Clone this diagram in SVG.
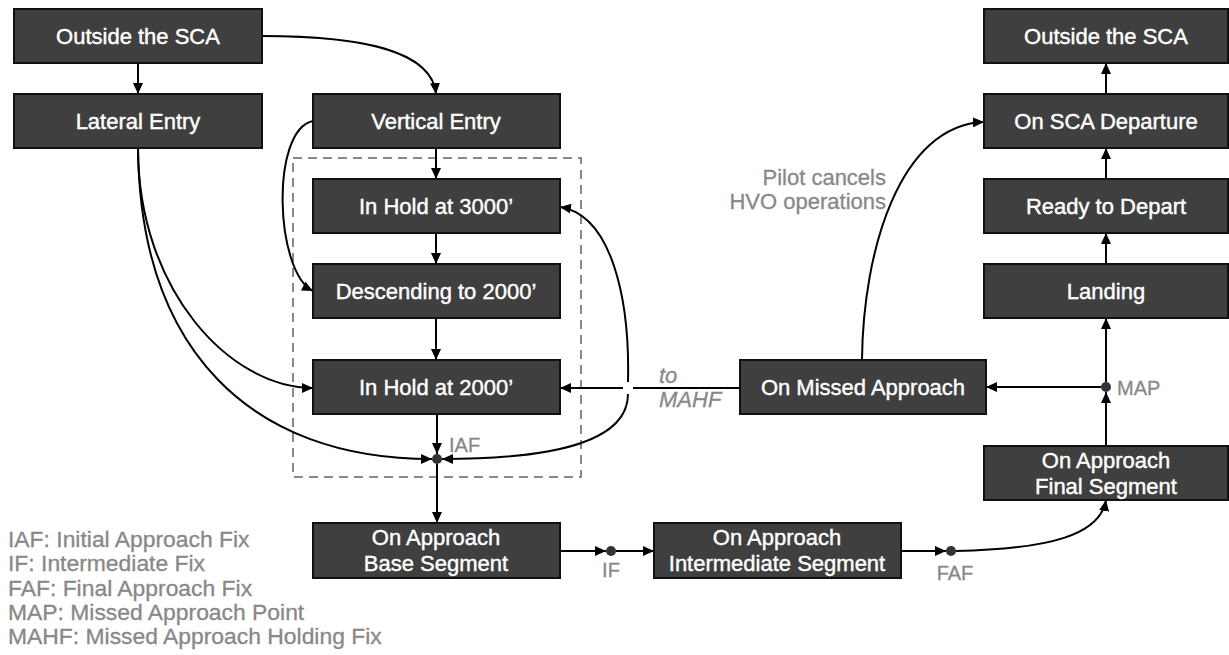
<svg xmlns="http://www.w3.org/2000/svg" width="1229" height="655" viewBox="0 0 1229 655">
<style>
.box{fill:#3f3f3f;stroke:#111;stroke-width:2}
.t{font-family:"Liberation Sans",Arial,sans-serif;font-size:22px;fill:#fff;stroke:#fff;stroke-width:0.4;text-anchor:middle}
.lbl{font-family:"Liberation Sans",Arial,sans-serif;font-size:20px;fill:#888;stroke:#888;stroke-width:0.3}
.leg{font-family:"Liberation Sans",Arial,sans-serif;font-size:22px;fill:#888;stroke:#888;stroke-width:0.3}
.c{fill:none;stroke:#000;stroke-width:2}
.a{marker-end:url(#ah)}
.dot{fill:#333}
</style>
<defs>
<marker id="ah" markerUnits="userSpaceOnUse" markerWidth="11" markerHeight="10" refX="11" refY="5" orient="auto">
<path d="M0,0 L11,5 L0,10 z" fill="#000"/>
</marker>
</defs>
<rect width="1229" height="655" fill="#fff"/>
<rect x="293" y="158" width="288" height="319" fill="none" stroke="#888" stroke-width="2" stroke-dasharray="9 6"/>
<g id="connectors">
<path class="c a" d="M138,63 L138,94"/>
<path class="c a" d="M262,36 C360,36 432,50 436,94"/>
<path class="c a" d="M436,148 L436,179"/>
<path class="c a" d="M436,233 L436,264"/>
<path class="c a" d="M436,318 L436,360"/>
<path class="c a" d="M437,414 L437,454"/>
<path class="c a" d="M437,464 L437,523"/>
<path class="c a" d="M313,121 C270,130 275,272 313,291"/>
<path class="c a" d="M138,148 C138,290 230,388 313,388"/>
<path class="c a" d="M138,148 C140,350 250,459 432,459"/>
<path class="c" d="M740,388 L633,388"/>
<path class="c a" d="M623,388 L560,388"/>
<path class="c a" d="M628,382 C630,300 612,215 560,207"/>
<path class="c a" d="M628,394 C628,440 560,459 442,459"/>
<path class="c a" d="M862,360 C863,250 900,125 984,122"/>
<path class="c a" d="M1106,446 L1106,392"/>
<path class="c a" d="M1106,382 L1106,318"/>
<path class="c a" d="M1101,387 L986,387"/>
<path class="c a" d="M1106,264 L1106,233"/>
<path class="c a" d="M1106,179 L1106,148"/>
<path class="c a" d="M1106,94 L1106,63"/>
<path class="c a" d="M560,551 L606,551"/>
<path class="c a" d="M616,551 L654,551"/>
<path class="c a" d="M901,551 L946,551"/>
<path class="c a" d="M956,551 C1050,549 1100,535 1106,500"/>
<circle class="dot" cx="437" cy="459" r="5"/>
<circle class="dot" cx="611" cy="551" r="5"/>
<circle class="dot" cx="951" cy="551" r="5"/>
<circle class="dot" cx="1106" cy="387" r="5"/>
</g>
<g id="n1"><rect class="box" x="14" y="9" width="248" height="54"/><text class="t" x="138" y="44">Outside the SCA</text></g>
<g id="n2"><rect class="box" x="14" y="94" width="248" height="54"/><text class="t" x="138" y="129">Lateral Entry</text></g>
<g id="n3"><rect class="box" x="313" y="94" width="247" height="54"/><text class="t" x="436" y="129">Vertical Entry</text></g>
<g id="n4"><rect class="box" x="313" y="179" width="247" height="54"/><text class="t" x="436" y="214">In Hold at 3000’</text></g>
<g id="n5"><rect class="box" x="313" y="264" width="247" height="54"/><text class="t" x="436" y="299">Descending to 2000’</text></g>
<g id="n6"><rect class="box" x="313" y="360" width="247" height="54"/><text class="t" x="436" y="395">In Hold at 2000’</text></g>
<g id="n7"><rect class="box" x="313" y="523" width="247" height="55"/><text class="t" x="436" y="545">On Approach</text><text class="t" x="436" y="571">Base Segment</text></g>
<g id="n8"><rect class="box" x="654" y="523" width="247" height="55"/><text class="t" x="777" y="545">On Approach</text><text class="t" x="777" y="571">Intermediate Segment</text></g>
<g id="n9"><rect class="box" x="984" y="446" width="244" height="54"/><text class="t" x="1106" y="468">On Approach</text><text class="t" x="1106" y="494">Final Segment</text></g>
<g id="n10"><rect class="box" x="740" y="360" width="246" height="54"/><text class="t" x="863" y="395">On Missed Approach</text></g>
<g id="n11"><rect class="box" x="984" y="264" width="244" height="54"/><text class="t" x="1106" y="299">Landing</text></g>
<g id="n12"><rect class="box" x="984" y="179" width="244" height="54"/><text class="t" x="1106" y="214">Ready to Depart</text></g>
<g id="n13"><rect class="box" x="984" y="94" width="244" height="54"/><text class="t" x="1106" y="129">On SCA Departure</text></g>
<g id="n14"><rect class="box" x="984" y="9" width="244" height="54"/><text class="t" x="1106" y="44">Outside the SCA</text></g>
<g id="labels">
<text class="lbl" x="449" y="452">IAF</text>
<text class="lbl" x="611" y="577" text-anchor="middle">IF</text>
<text class="lbl" x="955" y="580" text-anchor="middle">FAF</text>
<text class="lbl" x="1117" y="395">MAP</text>
<text class="leg" x="886" y="185" text-anchor="end">Pilot cancels</text>
<text class="leg" x="886" y="209" text-anchor="end">HVO operations</text>
<text class="leg" x="659" y="383" font-style="italic">to</text>
<text class="leg" x="659" y="407" font-style="italic">MAHF</text>
</g>
<g id="legend" transform="translate(8,0) scale(1.04,1)">
<text class="leg" x="0" y="547" font-size="21">IAF: Initial Approach Fix</text>
<text class="leg" x="0" y="571" font-size="21">IF: Intermediate Fix</text>
<text class="leg" x="0" y="596" font-size="21">FAF: Final Approach Fix</text>
<text class="leg" x="0" y="620" font-size="21">MAP: Missed Approach Point</text>
<text class="leg" x="0" y="644" font-size="21">MAHF: Missed Approach Holding Fix</text>
</g>
</svg>
